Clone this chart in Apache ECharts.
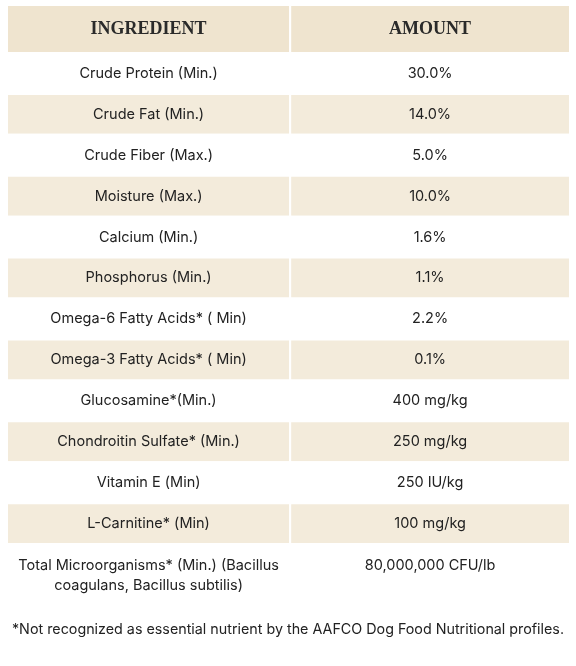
<!DOCTYPE html>
<html><head><meta charset="utf-8">
<script src="https://cdn.jsdelivr.net/npm/echarts@6/dist/echarts.min.js"></script>
<style>html,body{margin:0;padding:0;background:#fff}#c{width:576px;height:666px}</style>
</head><body><div id="c"></div>
<script>
const headers = ["INGREDIENT", "AMOUNT"];
const ingredients = ["Crude Protein (Min.)","Crude Fat (Min.)","Crude Fiber (Max.)","Moisture (Max.)","Calcium (Min.)","Phosphorus (Min.)","Omega-6 Fatty Acids* ( Min)","Omega-3 Fatty Acids* ( Min)","Glucosamine*(Min.)","Chondroitin Sulfate* (Min.)","Vitamin E (Min)","L-Carnitine* (Min)","Total Microorganisms* (Min.) (Bacillus\ncoagulans, Bacillus subtilis)"];
const amounts = ["30.0%","14.0%","5.0%","10.0%","1.6%","1.1%","2.2%","0.1%","400 mg/kg","250 mg/kg","250 IU/kg","100 mg/kg","80,000,000 CFU/lb"];
const footnote = "*Not recognized as essential nutrient by the AAFCO Dog Food Nutritional profiles.";

const bodyRows = ingredients.map((d,i)=>[d, amounts[i]]);
const chart = echarts.init(document.getElementById('c'));
function makeRender(rows, isHead){
  return function(params,api){
    const i=api.value(0);
    const cs=params.coordSys;
    const yc=api.coord([0,i])[1];
    const h=api.size([0,1])[1];
    const top=yc-h/2;
    const split=cs.x+cs.width*0.503;
    const fill=isHead?'#efe4cf':(i%2===1&&i<12?'#f3ebdb':'#ffffff');
    const r=rows[i];
    const multi=!isHead&&i===12;
    const ts=(txt,x)=>({type:'text',style:{text:txt,x:x,y:multi?top+12:yc,align:'center',verticalAlign:multi?'top':'middle',
      fill:isHead?'#2a2a2a':'#222',lineHeight:20,
      font:isHead?'bold 18px "Liberation Serif", serif':'14.5px Inter, sans-serif'}});
    return {type:'group',children:[
      {type:'rect',shape:{x:cs.x,y:top,width:split-cs.x,height:h},style:{fill:fill,stroke:'#ffffff',lineWidth:2}},
      {type:'rect',shape:{x:split,y:top,width:cs.x+cs.width-split,height:h},style:{fill:fill,stroke:'#ffffff',lineWidth:2}},
      ts(r[0],(cs.x+split)/2), ts(r[1],(split+cs.x+cs.width)/2)
    ]};
  };
}
chart.setOption({
  animation:false,
  title:{text:footnote,left:'center',top:618,textStyle:{fontFamily:'Inter',fontSize:14.3,fontWeight:'normal',color:'#222'}},
  grid:[{left:7,right:6,top:5,height:48},{left:7,right:6,top:53,height:532}],
  xAxis:[{gridIndex:0,type:'value',min:0,max:1,show:false},{gridIndex:1,type:'value',min:0,max:1,show:false}],
  yAxis:[{gridIndex:0,type:'category',data:['h'],inverse:true,show:false},
         {gridIndex:1,type:'category',data:bodyRows.map((r,i)=>String(i)),inverse:true,show:false}],
  series:[
    {type:'custom',xAxisIndex:0,yAxisIndex:0,data:[[0]],encode:{y:0},renderItem:makeRender([headers],true)},
    {type:'custom',xAxisIndex:1,yAxisIndex:1,data:bodyRows.map((r,i)=>[i]),encode:{y:0},renderItem:makeRender(bodyRows,false)}
  ]
});
</script></body></html>
